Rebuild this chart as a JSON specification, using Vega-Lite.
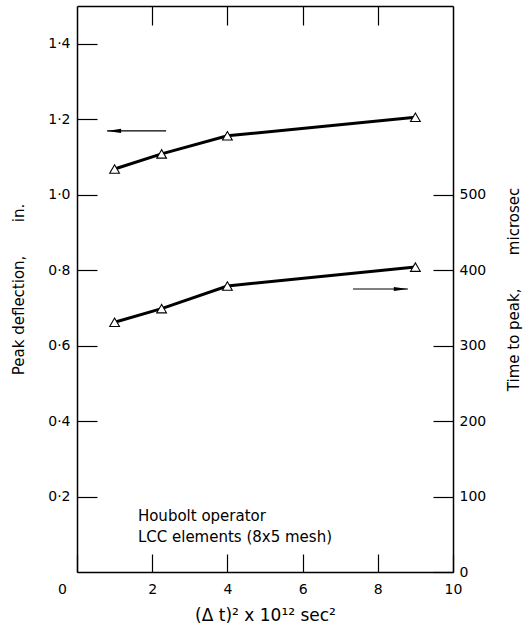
{
  "$schema": "https://vega.github.io/schema/vega-lite/v6.json",
  "autosize": "none",
  "width": 376,
  "height": 566,
  "padding": {"left": 77, "top": 6, "right": 70, "bottom": 56},
  "background": "white",
  "config": {
    "view": {"stroke": null},
    "font": "DejaVu Sans",
    "axis": {
      "domainColor": "black", "domainWidth": 1.5, "tickColor": "black", "tickWidth": 1.2,
      "labelColor": "black", "titleColor": "black", "labelFont": "DejaVu Sans", "titleFont": "DejaVu Sans",
      "labelFontSize": 14, "titleFontSize": 15, "titleFontWeight": "normal", "grid": false
    }
  },
  "datasets": {
    "deflection": [
      {"dt2": 1, "defl": 1.068},
      {"dt2": 2.25, "defl": 1.108},
      {"dt2": 4, "defl": 1.156},
      {"dt2": 9, "defl": 1.205}
    ],
    "time": [
      {"dt2": 1, "tpeak": 331},
      {"dt2": 2.25, "tpeak": 349},
      {"dt2": 4, "tpeak": 379},
      {"dt2": 9, "tpeak": 404}
    ],
    "arrowLeft": [{"x1": 0.8, "x2": 2.37, "defl": 1.169}],
    "arrowRight": [{"x1": 7.34, "x2": 8.8, "tpeak": 375}],
    "notes": [
      {"dt2": 1.62, "defl": 0.148, "label": "Houbolt  operator"},
      {"dt2": 1.62, "defl": 0.093, "label": "LCC elements  (8x5 mesh)"}
    ]
  },
  "layer": [
    {
      "layer": [
        {
          "data": {"name": "deflection"},
          "mark": {"type": "line", "color": "black", "strokeWidth": 3},
          "encoding": {
            "x": {"field": "dt2", "type": "quantitative"},
            "y": {"field": "defl", "type": "quantitative"}
          }
        },
        {
          "data": {"name": "deflection"},
          "mark": {"type": "point", "shape": "triangle-up", "filled": true, "fill": "white", "stroke": "black", "strokeWidth": 1.1, "size": 95, "opacity": 1},
          "encoding": {
            "x": {"field": "dt2", "type": "quantitative"},
            "y": {"field": "defl", "type": "quantitative"}
          }
        },
        {
          "data": {"name": "arrowLeft"},
          "mark": {"type": "rule", "color": "black", "strokeWidth": 1.2},
          "encoding": {
            "x": {"field": "x1", "type": "quantitative"},
            "x2": {"field": "x2"},
            "y": {"field": "defl", "type": "quantitative"}
          }
        },
        {
          "data": {"name": "arrowLeft"},
          "mark": {"type": "point", "shape": "M -1 0 L 1 -0.3 L 1 0.3 Z", "filled": true, "color": "black", "size": 200, "opacity": 1, "xOffset": 7},
          "encoding": {
            "x": {"field": "x1", "type": "quantitative"},
            "y": {"field": "defl", "type": "quantitative"}
          }
        },
        {
          "data": {"name": "notes"},
          "mark": {"type": "text", "align": "left", "baseline": "middle", "fontSize": 15, "font": "DejaVu Sans", "color": "black"},
          "encoding": {
            "x": {"field": "dt2", "type": "quantitative"},
            "y": {"field": "defl", "type": "quantitative"},
            "text": {"field": "label"}
          }
        }
      ],
      "encoding": {
        "x": {
          "type": "quantitative",
          "scale": {"domain": [0, 10], "nice": false, "zero": false},
          "axis": {
            "orient": "bottom", "values": [0, 2, 4, 6, 8, 10], "format": "d",
            "tickSize": -18, "labelPadding": 28, "labelFlush": false,
            "labelOffset": {"condition": {"test": "datum.value == 0", "value": -15}, "value": 0},
            "title": "(Δ t)² x 10¹² sec²", "titlePadding": 11, "titleFontSize": 17
          }
        },
        "y": {
          "type": "quantitative",
          "scale": {"domain": [0, 1.5], "nice": false, "zero": false},
          "axis": {
            "orient": "left", "values": [0.2, 0.4, 0.6, 0.8, 1.0, 1.2, 1.4],
            "labelExpr": "replace(format(datum.value, '.1f'), '.', '·')",
            "tickSize": -20, "labelPadding": 27,
            "title": "Peak deflection,\u00a0\u00a0\u00a0\u00a0\u00a0\u00a0\u00a0in.", "titlePadding": 21
          }
        }
      }
    },
    {
      "layer": [
        {
          "data": {"name": "time"},
          "mark": {"type": "line", "color": "black", "strokeWidth": 3},
          "encoding": {
            "x": {"field": "dt2", "type": "quantitative"},
            "y": {"field": "tpeak", "type": "quantitative"}
          }
        },
        {
          "data": {"name": "time"},
          "mark": {"type": "point", "shape": "triangle-up", "filled": true, "fill": "white", "stroke": "black", "strokeWidth": 1.1, "size": 95, "opacity": 1},
          "encoding": {
            "x": {"field": "dt2", "type": "quantitative"},
            "y": {"field": "tpeak", "type": "quantitative"}
          }
        },
        {
          "data": {"name": "arrowRight"},
          "mark": {"type": "rule", "color": "black", "strokeWidth": 1.2},
          "encoding": {
            "x": {"field": "x1", "type": "quantitative"},
            "x2": {"field": "x2"},
            "y": {"field": "tpeak", "type": "quantitative"}
          }
        },
        {
          "data": {"name": "arrowRight"},
          "mark": {"type": "point", "shape": "M 1 0 L -1 -0.3 L -1 0.3 Z", "filled": true, "color": "black", "size": 200, "opacity": 1, "xOffset": -7},
          "encoding": {
            "x": {"field": "x2", "type": "quantitative"},
            "y": {"field": "tpeak", "type": "quantitative"}
          }
        }
      ],
      "encoding": {
        "x": {
          "type": "quantitative",
          "scale": {"domain": [0, 10], "nice": false, "zero": false},
          "axis": {
            "orient": "top", "values": [2, 4, 6, 8], "labels": false,
            "tickSize": -19, "title": null
          }
        },
        "y": {
          "type": "quantitative",
          "scale": {"domain": [0, 750], "nice": false, "zero": false},
          "axis": {
            "orient": "right", "values": [0, 100, 200, 300, 400, 500], "format": "d",
            "tickSize": -20, "labelPadding": 26,
            "title": "Time  to  peak,\u00a0\u00a0\u00a0\u00a0\u00a0\u00a0\u00a0microsec", "titleAngle": -90, "titlePadding": 36
          }
        }
      }
    }
  ],
  "resolve": {"scale": {"y": "independent"}, "axis": {"x": "independent", "y": "independent"}}
}
